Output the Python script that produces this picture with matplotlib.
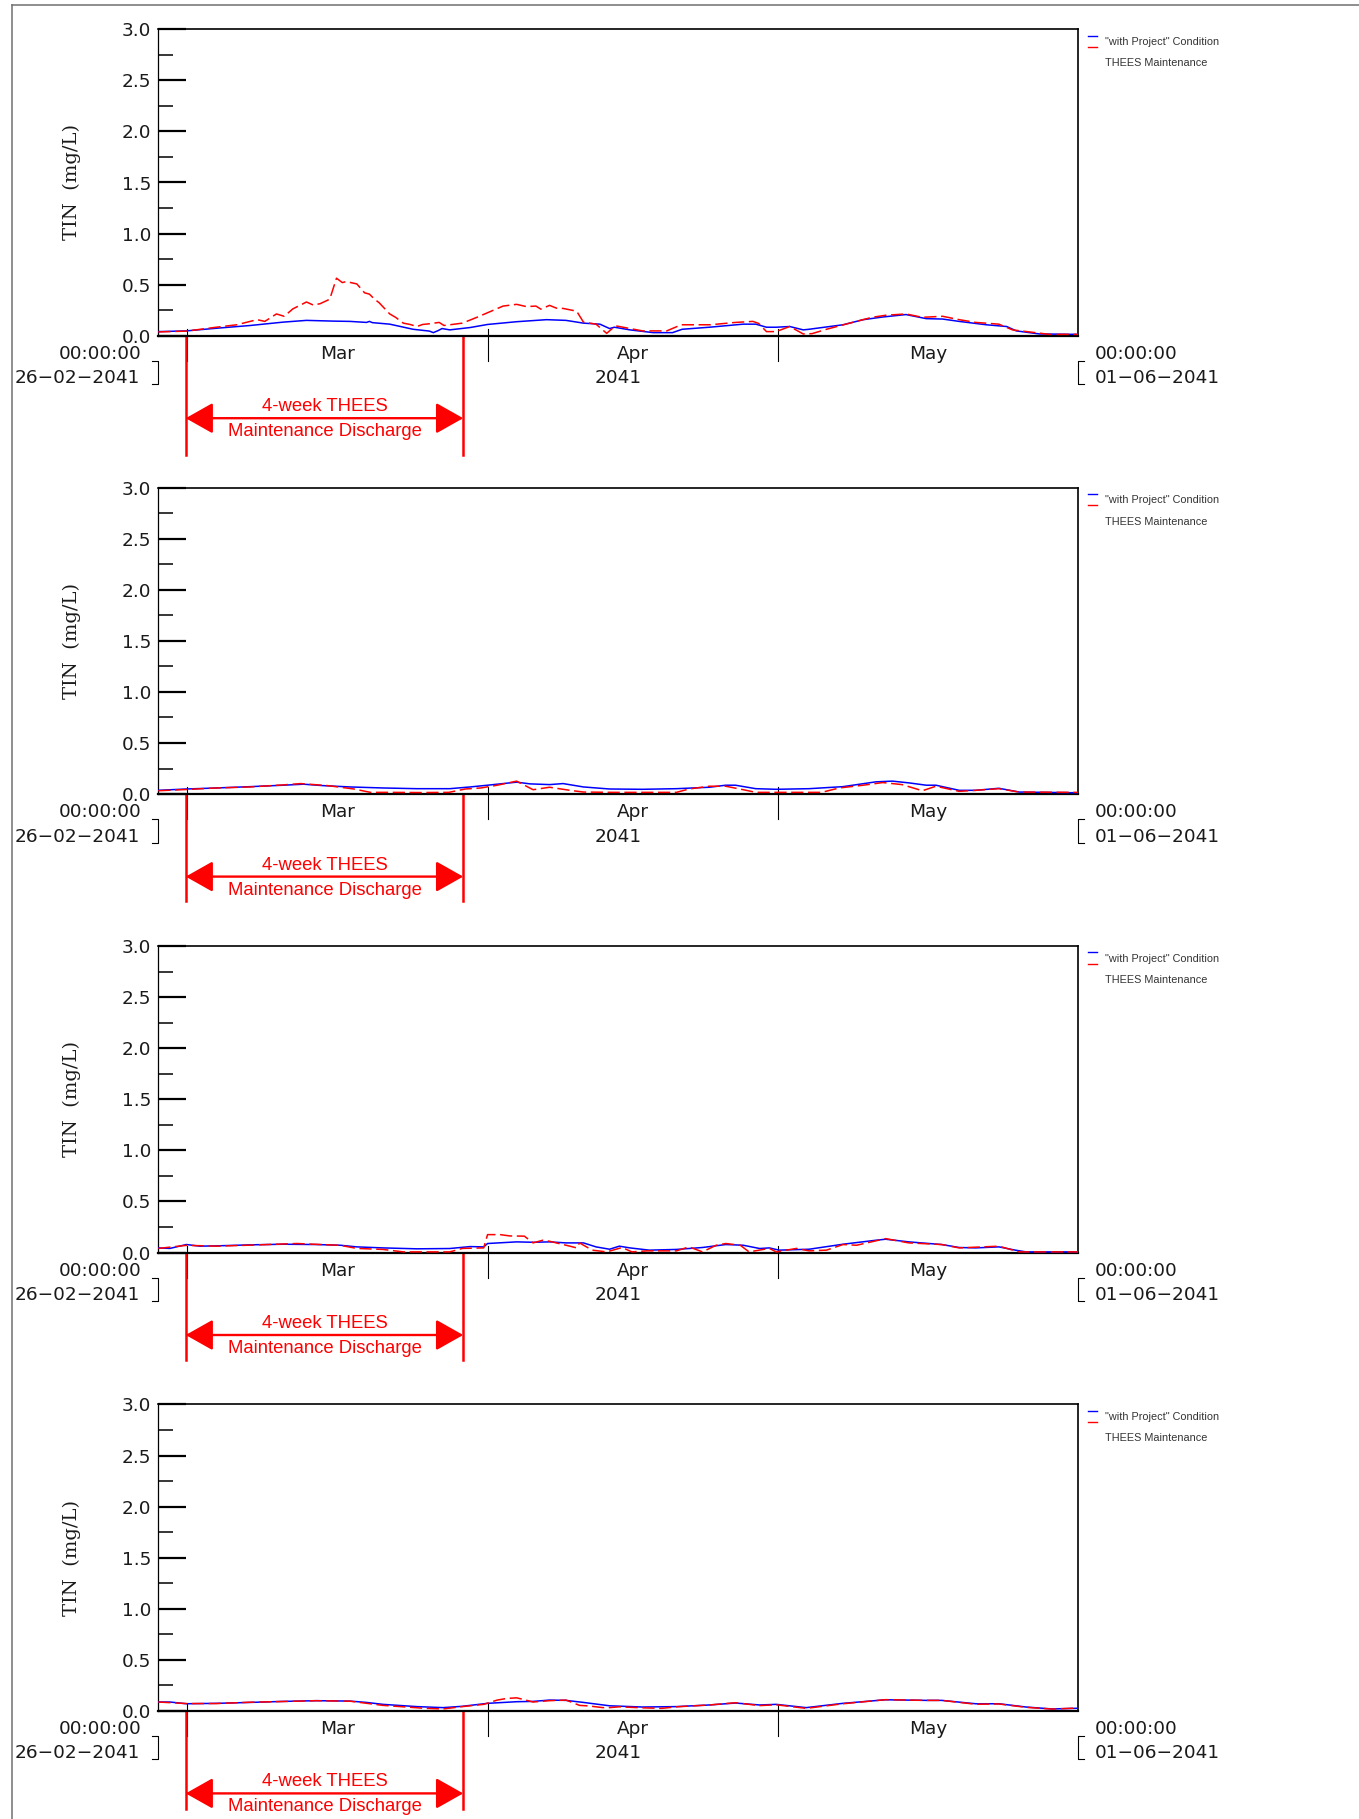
"""Four-panel TIN time series with the THEES maintenance discharge window."""

import numpy as np
import matplotlib
matplotlib.use('Agg')
import matplotlib.pyplot as plt
import matplotlib.dates as mdates
from matplotlib.lines import Line2D
from matplotlib.ticker import FixedLocator

START = np.datetime64('2041-02-26T00:00')
END = np.datetime64('2041-06-01T00:00')
MONTH_STARTS = ['2041-03-01', '2041-04-01', '2041-05-01']
MONTH_MIDS = ['2041-03-16T12:00', '2041-04-16T00:00', '2041-05-16T12:00']
MONTH_NAMES = ['Mar', 'Apr', 'May']
DISCH_START = '2041-02-28T20:00'
DISCH_END = '2041-03-29T11:30'
Y_TICKS = [0.0, 0.5, 1.0, 1.5, 2.0, 2.5, 3.0]
Y_MINOR = [0.25, 0.75, 1.25, 1.75, 2.25, 2.75]

# days since 26-02-2041 00:00, TIN in mg/L
p1_blue_days = [0, 2.9, 6.0, 9.5, 12.9, 15.3, 18.0, 19.8, 21.5, 21.8, 22.1, 23.9,
                26.3, 28.0, 28.4, 28.9, 29.3, 30.1, 32.2, 34.0, 37.0, 40.1, 42.1,
                43.9, 45.6, 46.6, 47.1, 48.7, 51.1, 53.1, 54.1, 56.9, 60.4, 61.7,
                62.8, 63.8, 65.2, 66.6, 67.2, 70.7, 72.8, 74.8, 77.2, 79.3, 81.0,
                82.7, 85.5, 87.6, 88.6, 91.0, 95.0]
p1_blue_vals = [0.04, 0.047, 0.073, 0.10, 0.133, 0.15, 0.143, 0.14, 0.13, 0.14,
                0.128, 0.113, 0.063, 0.045, 0.03, 0.05, 0.07, 0.057, 0.08, 0.11,
                0.137, 0.157, 0.15, 0.123, 0.113, 0.07, 0.083, 0.057, 0.03, 0.03,
                0.063, 0.083, 0.113, 0.113, 0.083, 0.083, 0.09, 0.057, 0.063,
                0.107, 0.157, 0.183, 0.207, 0.167, 0.163, 0.14, 0.107, 0.09,
                0.047, 0.017, 0.013]
p1_red_days = [0, 2.9, 6.0, 8.1, 10.2, 11.0, 12.2, 13.0, 13.9, 15.3, 16.0, 16.7,
               17.7, 18.4, 19.0, 19.4, 20.5, 21.3, 21.8, 22.3, 22.8, 23.9, 24.5,
               25.3, 26.0, 26.7, 27.3, 28.0, 29.0, 29.5, 30.1, 31.4, 32.9, 34.2,
               35.6, 37.0, 38.0, 39.0, 39.5, 40.4, 41.1, 41.8, 43.2, 43.9, 45.2,
               46.3, 47.2, 47.6, 50.0, 52.5, 54.0, 57.0, 59.6, 61.4, 62.0, 62.8,
               63.8, 65.2, 66.6, 67.5, 69.0, 71.4, 73.7, 75.1, 77.2, 78.9, 81.0,
               82.7, 84.4, 86.8, 88.2, 90.3, 92.0, 95.0]
p1_red_vals = [0.037, 0.045, 0.083, 0.107, 0.157, 0.14, 0.213, 0.19, 0.263, 0.33,
               0.30, 0.313, 0.357, 0.563, 0.52, 0.53, 0.507, 0.42, 0.407, 0.36,
               0.323, 0.213, 0.18, 0.123, 0.11, 0.09, 0.11, 0.117, 0.13, 0.10,
               0.107, 0.123, 0.18, 0.233, 0.29, 0.307, 0.285, 0.29, 0.26, 0.297,
               0.27, 0.267, 0.24, 0.133, 0.113, 0.023, 0.097, 0.09, 0.047, 0.047,
               0.107, 0.107, 0.13, 0.14, 0.12, 0.04, 0.04, 0.09, 0.017, 0.02,
               0.063, 0.123, 0.18, 0.20, 0.213, 0.18, 0.19, 0.157, 0.13, 0.113,
               0.057, 0.033, 0.013, 0.013]

p2_blue_days = [0, 2.9, 6, 9.5, 12.9, 15, 17, 19.8, 23.2, 26.7, 30.1, 32.2, 34,
                37, 38.4, 40.4, 41.8, 43.9, 46.6, 50, 53.5, 56.9, 58.6, 59.6,
                61.7, 63.8, 67.2, 70.7, 74.1, 75.8, 77.5, 79.3, 80.3, 82.7, 84.4,
                86.8, 88.9, 95]
p2_blue_vals = [0.037, 0.05, 0.06, 0.073, 0.087, 0.097, 0.083, 0.07, 0.06, 0.053,
                0.053, 0.07, 0.087, 0.117, 0.10, 0.093, 0.103, 0.07, 0.05, 0.047,
                0.053, 0.067, 0.087, 0.087, 0.053, 0.047, 0.053, 0.073, 0.12,
                0.127, 0.11, 0.087, 0.087, 0.037, 0.037, 0.057, 0.02, 0.013]
p2_red_days = [0, 2.9, 6, 9.5, 12.9, 14.7, 17.5, 20.2, 21.9, 24, 27, 30, 31.7,
               33.3, 35, 37, 38.7, 40.4, 42.5, 43.9, 47, 53.5, 54.8, 56.9, 58.6,
               60.4, 61.7, 65, 68.5, 70.3, 72.8, 74.8, 76.8, 78.9, 80.3, 82.7,
               84.4, 86.8, 88.9, 95]
p2_red_vals = [0.033, 0.045, 0.06, 0.07, 0.09, 0.103, 0.083, 0.05, 0.017, 0.017,
               0.015, 0.017, 0.05, 0.06, 0.087, 0.127, 0.043, 0.067, 0.037, 0.02,
               0.017, 0.017, 0.05, 0.077, 0.077, 0.043, 0.017, 0.017, 0.017,
               0.06, 0.087, 0.113, 0.093, 0.033, 0.077, 0.027, 0.037, 0.053,
               0.02, 0.017]

p3_blue_days = [0, 1.2, 2.9, 4.3, 6, 9.5, 12.9, 16.3, 18.8, 20.5, 23.2, 26.7,
                30.1, 32.2, 33.6, 34, 37, 38.7, 40.4, 42.1, 43.9, 45.2, 46.6,
                47.6, 48.7, 50.7, 53.5, 56.2, 58.6, 60.4, 62.1, 63.1, 64.1, 67.2,
                70.7, 74.1, 75.1, 77.5, 80.9, 82.7, 84.4, 86.8, 88.5, 89.6, 95]
p3_blue_vals = [0.045, 0.04, 0.078, 0.062, 0.065, 0.075, 0.081, 0.078, 0.071,
                0.055, 0.045, 0.036, 0.039, 0.058, 0.055, 0.088, 0.104, 0.10,
                0.104, 0.094, 0.094, 0.055, 0.032, 0.062, 0.045, 0.023, 0.03,
                0.049, 0.078, 0.071, 0.039, 0.045, 0.023, 0.032, 0.081, 0.12,
                0.13, 0.104, 0.078, 0.049, 0.045, 0.055, 0.023, 0.006, 0.006]
p3_red_days = [0, 2.9, 6, 9.5, 14.3, 18.8, 20.5, 23.2, 25.3, 28, 30.1, 31.4,
               33.6, 34, 35.3, 36.3, 37.8, 38.7, 39.7, 40.4, 42.5, 43.2, 43.5,
               44.8, 46.3, 47.9, 48.9, 50.5, 53.5, 54.8, 56.2, 57.6, 58.6, 60.1,
               61, 63.1, 63.8, 65.9, 67.2, 69, 70.7, 72.1, 75.1, 77.5, 80.9, 82.7,
               86.8, 88.9, 95]
p3_red_vals = [0.04, 0.07, 0.062, 0.072, 0.088, 0.07, 0.04, 0.03, 0.006, 0.006,
               0.006, 0.04, 0.045, 0.175, 0.175, 0.162, 0.16, 0.094, 0.12, 0.11,
               0.062, 0.045, 0.094, 0.023, 0.006, 0.049, 0.006, 0.016, 0.016,
               0.055, 0.006, 0.071, 0.088, 0.071, 0.006, 0.04, 0.006, 0.04, 0.016,
               0.023, 0.078, 0.071, 0.136, 0.094, 0.078, 0.045, 0.062, 0.006,
               0.006]

p4_blue_days = [0, 1.2, 2.9, 6, 9.5, 12.9, 16.3, 19.8, 21.5, 23.2, 26.7, 29.4,
                31.4, 34, 37, 38.7, 40.4, 42.1, 43.9, 46.6, 50, 53.5, 56.9, 59.6,
                62.1, 63.8, 66.9, 70.7, 75.1, 79.3, 80.9, 84.4, 86.8, 89.6, 92.3,
                95]
p4_blue_vals = [0.087, 0.087, 0.07, 0.074, 0.083, 0.093, 0.10, 0.096, 0.083,
                0.064, 0.042, 0.032, 0.045, 0.074, 0.09, 0.093, 0.106, 0.103,
                0.083, 0.05, 0.038, 0.042, 0.058, 0.077, 0.058, 0.064, 0.032,
                0.074, 0.109, 0.103, 0.103, 0.07, 0.07, 0.038, 0.019, 0.026]
p4_red_days = [0, 2.9, 6, 9.5, 12.9, 16.3, 19.8, 23.2, 27.4, 29.4, 31.4, 33.6,
               35, 36, 37, 37.7, 38.7, 40.4, 42.1, 43.5, 44.5, 45.9, 46.6, 47.6,
               50, 52, 53.5, 56.9, 59.6, 62.1, 63.8, 66.9, 70.7, 75.1, 79.3, 80.9,
               84.4, 86.8, 89.6, 92.3, 95]
p4_red_vals = [0.087, 0.072, 0.072, 0.085, 0.092, 0.10, 0.095, 0.054, 0.026,
               0.019, 0.042, 0.064, 0.106, 0.122, 0.128, 0.112, 0.087, 0.10,
               0.106, 0.054, 0.048, 0.032, 0.032, 0.04, 0.03, 0.025, 0.04, 0.058,
               0.08, 0.052, 0.06, 0.025, 0.07, 0.11, 0.103, 0.103, 0.065, 0.068,
               0.035, 0.018, 0.028]

PANELS = [
    (p1_blue_days, p1_blue_vals, p1_red_days, p1_red_vals),
    (p2_blue_days, p2_blue_vals, p2_red_days, p2_red_vals),
    (p3_blue_days, p3_blue_vals, p3_red_days, p3_red_vals),
    (p4_blue_days, p4_blue_vals, p4_red_days, p4_red_vals),
]
MARKER_DEPTH = [0.39, 0.35, 0.35, 0.32]

BLUE = '#0000ff'
RED = '#ff0000'
TXT = '#1a1a1a'

W, H = 1359, 1819
AX_LEFT, AX_WIDTH = 158.3, 920.0
AX_TOP0, AX_HEIGHT, STEP = 29.3, 306.4, 458.4


def to_dates(days):
    """Day offsets from START to datetime64."""
    minutes = np.round(np.asarray(days, dtype=float) * 1440).astype('timedelta64[m]')
    return START + minutes


def num(t):
    """datetime64 to matplotlib date number."""
    return mdates.date2num(np.datetime64(t))


def px(dy):
    """Pixels below the axis bottom as an axes fraction."""
    return -dy / AX_HEIGHT


def decorate_time_axis(ax):
    """Month ticks, labels and the end brackets of the time axis."""
    ax.set_xticks([])
    xt = ax.get_xaxis_transform()
    for m in MONTH_STARTS:
        ax.axvline(num(m), ymin=px(25), ymax=7 / AX_HEIGHT,
                   color='black', lw=0.8, clip_on=False)
    for m, name in zip(MONTH_MIDS, MONTH_NAMES):
        ax.text(num(m), px(18.3), name, transform=xt, ha='center',
                va='center', fontsize=13.3, color=TXT)
    mid = (num(START) + num(END)) / 2
    ax.text(mid, px(42.6), '2041', transform=xt, ha='center', va='center',
            fontsize=13.3, color=TXT)

    ta = ax.transAxes
    stub = 6 / AX_WIDTH
    y1, y2 = px(25.3), px(48.6)
    ax.add_line(Line2D([-stub, 0, 0, -stub], [y1, y1, y2, y2], transform=ta,
                       color='black', lw=0.8, clip_on=False))
    ax.add_line(Line2D([1 + stub, 1, 1, 1 + stub], [y1, y1, y2, y2],
                       transform=ta, color='black', lw=0.8, clip_on=False))
    lx = -16.6 / AX_WIDTH
    ax.text(lx, px(18.3), '00:00:00', transform=ta, ha='right', va='center',
            fontsize=13.3, color=TXT)
    ax.text(lx - 1.5 / AX_WIDTH, px(42.6), '26\u221202\u22122041', transform=ta,
            ha='right', va='center', fontsize=13.3, color=TXT)
    rx = 1 + 16 / AX_WIDTH
    ax.text(rx, px(18.3), '00:00:00', transform=ta, ha='left', va='center',
            fontsize=13.3, color=TXT)
    ax.text(rx, px(42.6), '01\u221206\u22122041', transform=ta, ha='left',
            va='center', fontsize=13.3, color=TXT)


def draw_discharge(ax, depth):
    """Red markers for the 4-week THEES maintenance discharge."""
    t0, t1 = num(DISCH_START), num(DISCH_END)
    for t in (t0, t1):
        ax.axvline(t, ymin=-depth, ymax=0.0, color=RED, lw=1.8, clip_on=False)
    xt = ax.get_xaxis_transform()
    ay = px(82.5)
    ax.annotate('', xy=(t1, ay), xytext=(t0, ay), xycoords=xt,
                textcoords=xt, annotation_clip=False,
                arrowprops=dict(arrowstyle='<|-|>,head_length=0.85,head_width=0.48',
                                mutation_scale=20, color=RED, lw=1.7,
                                shrinkA=0, shrinkB=0))
    mid = (t0 + t1) / 2
    ax.text(mid, px(71), '4-week THEES', transform=xt, ha='center',
            va='center', fontsize=13.3, color=RED, family='Liberation Sans')
    ax.text(mid, px(96), 'Maintenance Discharge', transform=xt, ha='center',
            va='center', fontsize=13.3, color=RED, family='Liberation Sans')


def draw_legend(ax):
    """Small legend to the right of the panel."""
    ta = ax.transAxes
    x0, x1 = (1088 - AX_LEFT) / AX_WIDTH, (1097 - AX_LEFT) / AX_WIDTH
    y_b = 1 - (35.7 - AX_TOP0) / AX_HEIGHT
    y_r = 1 - (47.0 - AX_TOP0) / AX_HEIGHT
    ax.add_line(Line2D([x0, x1], [y_b, y_b], transform=ta, color=BLUE, lw=1.0,
                       clip_on=False))
    ax.add_line(Line2D([x0, x1], [y_r, y_r], transform=ta, color=RED, lw=1.0,
                       clip_on=False))
    tx = (1105 - AX_LEFT) / AX_WIDTH
    ax.text(tx, 1 - (41.7 - AX_TOP0) / AX_HEIGHT, '"with Project" Condition',
            transform=ta, ha='left', va='center', fontsize=7.8, color='#333333',
            family='Liberation Sans')
    ax.text(tx, 1 - (63.3 - AX_TOP0) / AX_HEIGHT, 'THEES Maintenance',
            transform=ta, ha='left', va='center', fontsize=7.8, color='#333333',
            family='Liberation Sans')


fig = plt.figure(figsize=(W / 100, H / 100), dpi=100)

# page frame
fig.add_artist(Line2D([11.7 / W, 1.0], [1 - 4.7 / H, 1 - 4.7 / H],
                      transform=fig.transFigure, color='#707070', lw=1.1))
fig.add_artist(Line2D([11.7 / W, 11.7 / W], [0.0, 1 - 4.7 / H],
                      transform=fig.transFigure, color='#707070', lw=1.1))

for i, (bd, bv, rd, rv) in enumerate(PANELS):
    bottom_px = AX_TOP0 + i * STEP + AX_HEIGHT
    ax = fig.add_axes([AX_LEFT / W, 1 - bottom_px / H, AX_WIDTH / W,
                       AX_HEIGHT / H])
    ax.plot(to_dates(bd), bv, color=BLUE, lw=1.1, zorder=3)
    ax.plot(to_dates(rd), rv, color=RED, lw=1.1, dashes=(8, 3), zorder=4)
    ax.set_xlim(num(START), num(END))
    ax.set_ylim(0, 3.0)

    ax.set_yticks(Y_TICKS)
    ax.set_yticklabels([f'{v:.1f}' for v in Y_TICKS])
    ax.yaxis.set_minor_locator(FixedLocator(Y_MINOR))
    ax.tick_params(axis='y', which='major', direction='in', length=20.5,
                   width=1.6, pad=5, labelsize=13.3, labelcolor=TXT)
    ax.tick_params(axis='y', which='minor', direction='in', length=11,
                   width=1.1)
    ax.tick_params(axis='x', which='both', bottom=False, top=False)
    for side in ('top', 'right'):
        ax.spines[side].set_linewidth(1.2)
    ax.spines['left'].set_linewidth(0.9)
    ax.spines['bottom'].set_linewidth(1.6)

    ax.text((72 - AX_LEFT) / AX_WIDTH, 0.5, 'TIN  (mg/L)',
            transform=ax.transAxes, rotation=90, ha='center', va='center',
            fontsize=14, family='DejaVu Serif', color=TXT)

    decorate_time_axis(ax)
    draw_discharge(ax, MARKER_DEPTH[i])
    draw_legend(ax)

fig.savefig('out.png', dpi=100)
